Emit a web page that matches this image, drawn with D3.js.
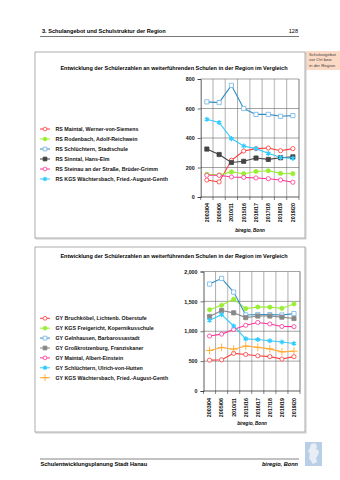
<!DOCTYPE html>
<html><head><meta charset="utf-8">
<script src="https://cdn.jsdelivr.net/npm/d3@7"></script>
<style>
html,body{margin:0;padding:0;background:#fff;}
svg{display:block;font-family:"Liberation Sans",Arial,sans-serif;}
</style></head>
<body>
<svg id="page" width="340" height="480"></svg>
<script>
// ---------- DATA ----------
const years = ["2003/04","2005/06","2010/11","2015/16","2016/17","2017/18","2018/19","2019/20"];

const rsNames = ["RS Maintal, Werner-von-Siemens","RS Rodenbach, Adolf-Reichwein","RS Schlüchtern, Stadtschule","RS Sinntal, Hans-Elm","RS Steinau an der Straße, Brüder-Grimm","RS KGS Wächtersbach, Fried.-August-Genth"];
const rsMaintal       = [115, 102, 249, 312, 328, 332, 314, 328];
const rsRodenbach     = [154, 150, 170, 158, 173, 178, 160, 158];
const rsSchluechtern  = [645, 640, 757, 600, 560, 560, 547, 552];
const rsSinntal       = [325, 288, 234, 242, 264, 255, 266, 272];
const rsSteinau       = [147, 147, 136, 133, 129, 124, 115, 100];
const rsWaechtersbach = [527, 505, 396, 346, 328, 296, 268, 262];
const rsTicks = [0, 200, 400, 600, 800];

const gyNames = ["GY Bruchköbel, Lichtenb. Oberstufe","GY KGS Freigericht, Kopernikusschule","GY Gelnhausen, Barbarossastadt","GY Großkrotzenburg, Franziskaner","GY Maintal, Albert-Einstein","GY Schlüchtern, Ulrich-von-Hutten","GY KGS Wächtersbach, Fried.-August-Genth"];
const gyBruchkoebel     = [516, 522, 630, 611, 589, 575, 535, 575];
const gyFreigericht     = [1360, 1435, 1537, 1378, 1406, 1403, 1384, 1456];
const gyGelnhausen      = [1790, 1885, 1655, 1272, 1280, 1278, 1272, 1295];
const gyGrosskrotzenburg= [1247, 1348, 1308, 1228, 1255, 1255, 1236, 1213];
const gyMaintal         = [920, 952, 1030, 1100, 1147, 1122, 1080, 1077];
const gySchluechtern    = [1183, 1278, 1088, 873, 862, 840, 820, 795];
const gyWaechtersbach   = [678, 728, 700, 753, 730, 705, 655, 666];
const gyTicks = [0, 500, 1000, 1500, 2000];

const titleText = "Entwicklung der Schülerzahlen an weiterführenden Schulen in der Region im Vergleich";
const sourceText = "biregio, Bonn";

// ---------- STYLES ----------
const ST = {
  redOpen:   {line:"#ff3b3b", stroke:"#ff3b3b", fill:"#fff", sym:"circle"},
  green:     {line:"#99ee33", stroke:"#99ee33", fill:"#99ee33", sym:"circle"},
  blueOpen:  {line:"#2f8fc8", stroke:"#6fb3e6", fill:"#fff", sym:"square"},
  darkSq:    {line:"#444", stroke:"#444", fill:"#444", sym:"square"},
  greySq:    {line:"#888", stroke:"#888", fill:"#888", sym:"square"},
  pinkOpen:  {line:"#ff3399", stroke:"#ff3399", fill:"#fff", sym:"circle"},
  cyanStar:  {line:"#33ccff", stroke:"#33ccff", fill:"#33ccff", sym:"star"},
  orangePlus:{line:"#ffaa33", stroke:"#ffaa33", fill:"none", sym:"plus"}
};

const svg = d3.select("#page");
const F = "Liberation Sans, Arial, sans-serif";

// header
svg.append("text").attr("x",42).attr("y",33).attr("font-size",5.6).attr("font-weight","bold").text("3. Schulangebot und Schulstruktur der Region");
svg.append("text").attr("x",298).attr("y",33).attr("font-size",5.6).attr("text-anchor","end").text("128");
svg.append("line").attr("x1",40).attr("x2",299).attr("y1",36.5).attr("y2",36.5).attr("stroke","#555").attr("stroke-width",0.8);

// side tag
svg.append("rect").attr("x",306).attr("y",51).attr("width",34).attr("height",19).attr("fill","#fbd9c5");
["Schulangebot","vor Ort bzw.","in der Region"].forEach((t,i)=>{
  svg.append("text").attr("x",309).attr("y",56+i*5.3).attr("font-size",4.4).attr("fill","#444").text(t);
});

// footer
svg.append("line").attr("x1",40).attr("x2",299).attr("y1",459).attr("y2",459).attr("stroke","#666").attr("stroke-width",0.8);
svg.append("text").attr("x",40.5).attr("y",465.5).attr("font-size",5.6).attr("font-weight","bold").text("Schulentwicklungsplanung Stadt Hanau");
svg.append("text").attr("x",298).attr("y",465.5).attr("font-size",5.6).attr("font-weight","bold").attr("font-style","italic").attr("text-anchor","end").text(sourceText);
// logo
svg.append("rect").attr("x",305).attr("y",442).attr("width",17).attr("height",24).attr("fill","#b9cfe8");
svg.append("path").attr("d","M311,444 L315,443 L317,446 L316,449 L319,451 L318,455 L316,458 L317,462 L313,464 L311,461 L309,458 L310,454 L308,451 L310,448 Z").attr("fill","#e9eef6");

function symbolPath(sym, s){
  if(sym==="circle") return d3.symbol().type(d3.symbolCircle).size(s*s*0.78)();
  if(sym==="square") return d3.symbol().type(d3.symbolSquare).size(s*s)();
  if(sym==="star") return d3.symbol().type(d3.symbolAsterisk).size(s*s*1.0)();
  if(sym==="plus") return d3.symbol().type(d3.symbolPlus).size(s*s*1.2)();
}
function drawMarker(g, st, x, y, s){
  const p = g.append("path").attr("d", symbolPath(st.sym, s)).attr("transform",`translate(${x},${y})`);
  if(st.sym==="star"){ p.attr("fill","none").attr("stroke",st.stroke).attr("stroke-width",1.3);
    g.append("circle").attr("cx",x).attr("cy",y).attr("r",1.1).attr("fill",st.fill); }
  else if(st.sym==="plus"){ p.attr("fill","none").attr("stroke",st.stroke).attr("stroke-width",0.9); }
  else { p.attr("fill",st.fill).attr("stroke",st.stroke).attr("stroke-width",0.8); }
}

function drawChart(cfg){
  const g = svg.append("g");
  // box
  g.append("rect").attr("x",cfg.box[0]+1).attr("y",cfg.box[1]+1).attr("width",cfg.box[2]).attr("height",cfg.box[3]).attr("fill","none").attr("stroke","#ccc").attr("stroke-width",1);
  g.append("rect").attr("x",cfg.box[0]).attr("y",cfg.box[1]).attr("width",cfg.box[2]).attr("height",cfg.box[3]).attr("fill","#fff").attr("stroke","#999").attr("stroke-width",0.8);
  // title
  g.append("text").attr("x",cfg.titleX).attr("y",cfg.titleY).attr("text-anchor","middle").attr("font-size",5.5).attr("font-weight","bold").text(titleText);

  const x = d3.scaleBand().domain(years).range([cfg.x0, cfg.x1]);
  const y = d3.scaleLinear().domain([0, d3.max(cfg.ticks)]).range([cfg.y0, cfg.y1]);
  const cx = d => x(d) + x.bandwidth()/2;

  // vertical gridlines at band boundaries
  years.forEach((yr,i)=>{
    if(i===0) return;
    const xx = x(yr);
    g.append("line").attr("x1",xx).attr("x2",xx).attr("y1",cfg.y1).attr("y2",cfg.y0)
      .attr("stroke", i%2===0 ? "#c8c8c8" : "#777").attr("stroke-width", i%2===0 ? 1.4 : 0.6);
  });
  // plot right border
  g.append("line").attr("x1",cfg.x1).attr("x2",cfg.x1).attr("y1",cfg.y1).attr("y2",cfg.y0).attr("stroke","#555").attr("stroke-width",0.8);
  // horizontal gridlines
  cfg.ticks.forEach(t=>{
    if(t===0) return;
    g.append("line").attr("x1",cfg.x0).attr("x2",cfg.x1).attr("y1",y(t)).attr("y2",y(t)).attr("stroke","#666").attr("stroke-width",0.6);
  });

  // y axis
  const ya = d3.axisLeft(y).tickValues(cfg.ticks).tickSize(3).tickPadding(3).tickFormat(d3.format(","));
  const yg = g.append("g").attr("transform",`translate(${cfg.x0},0)`).call(ya);
  yg.select(".domain").attr("stroke","#333").attr("stroke-width",0.8);
  yg.selectAll(".tick line").attr("stroke","#333").attr("stroke-width",0.7);
  yg.selectAll("text").attr("font-size",5.3).attr("font-weight","bold").attr("font-family",F).attr("fill","#111");

  // x axis
  const xg = g.append("g");
  xg.append("line").attr("x1",cfg.x0).attr("x2",cfg.x1).attr("y1",cfg.y0).attr("y2",cfg.y0).attr("stroke","#333").attr("stroke-width",0.8);
  years.forEach((yr,i)=>{
    const xx = x(yr);
    xg.append("line").attr("x1",xx).attr("x2",xx).attr("y1",cfg.y0).attr("y2",cfg.y0+3).attr("stroke","#333").attr("stroke-width",0.6);
  });
  xg.append("line").attr("x1",cfg.x1).attr("x2",cfg.x1).attr("y1",cfg.y0).attr("y2",cfg.y0+3).attr("stroke","#333").attr("stroke-width",0.6);
  years.forEach(yr=>{
    xg.append("text").attr("transform",`translate(${cx(yr)+1.9},${cfg.labelTop}) rotate(-90)`)
      .attr("text-anchor","end").attr("font-size",5.3).attr("font-weight","bold").attr("fill","#111").text(yr);
  });
  // source
  g.append("text").attr("x",cfg.srcX).attr("y",cfg.srcY).attr("text-anchor","middle").attr("font-size",4.6).attr("font-weight","bold").attr("font-style","italic").text(sourceText);

  // series
  const line = d3.line().x((d,i)=>cx(years[i])).y(d=>y(d));
  cfg.series.forEach(s=>{
    g.append("path").datum(s.values).attr("d",line).attr("fill","none").attr("stroke",s.st.line).attr("stroke-width",1.1);
  });
  cfg.series.forEach(s=>{
    s.values.forEach((v,i)=>drawMarker(g, s.st, cx(years[i]), y(v), 4.2));
  });

  // legend
  cfg.series.forEach((s,i)=>{
    const ly = cfg.legY + i*cfg.legStep;
    g.append("line").attr("x1",40).attr("x2",50).attr("y1",ly).attr("y2",ly).attr("stroke",s.st.line).attr("stroke-width",1);
    drawMarker(g, s.st, 45, ly, 3.8);
    g.append("text").attr("x",55.5).attr("y",ly+1.9).attr("font-size",5.3).attr("font-weight","bold").attr("fill","#111").text(s.name);
  });
}

drawChart({
  box:[35,52,270,186], titleX:174, titleY:70,
  x0:200.7, x1:299, y0:197, y1:79, ticks:rsTicks, labelTop:203,
  srcX:250, srcY:232, legY:129, legStep:10,
  series:[
    {name:rsNames[0], values:rsMaintal, st:ST.redOpen},
    {name:rsNames[1], values:rsRodenbach, st:ST.green},
    {name:rsNames[2], values:rsSchluechtern, st:ST.blueOpen},
    {name:rsNames[3], values:rsSinntal, st:ST.darkSq},
    {name:rsNames[4], values:rsSteinau, st:ST.pinkOpen},
    {name:rsNames[5], values:rsWaechtersbach, st:ST.cyanStar}
  ]
});

drawChart({
  box:[35,247,270,185], titleX:174, titleY:258,
  x0:203.5, x1:300, y0:391, y1:271.5, ticks:gyTicks, labelTop:398,
  srcX:252, srcY:425, legY:318.3, legStep:9.9,
  series:[
    {name:gyNames[0], values:gyBruchkoebel, st:ST.redOpen},
    {name:gyNames[1], values:gyFreigericht, st:ST.green},
    {name:gyNames[2], values:gyGelnhausen, st:ST.blueOpen},
    {name:gyNames[3], values:gyGrosskrotzenburg, st:ST.greySq},
    {name:gyNames[4], values:gyMaintal, st:ST.pinkOpen},
    {name:gyNames[5], values:gySchluechtern, st:ST.cyanStar},
    {name:gyNames[6], values:gyWaechtersbach, st:ST.orangePlus}
  ]
});
</script>
</body></html>
